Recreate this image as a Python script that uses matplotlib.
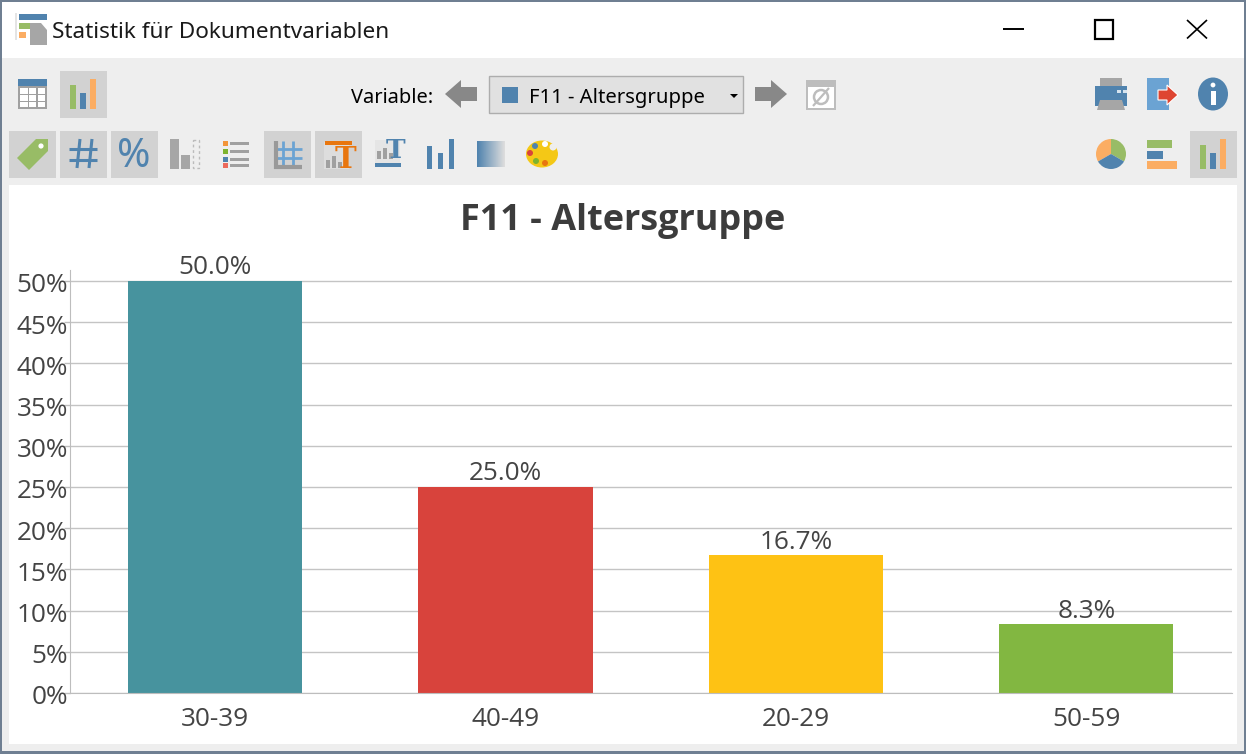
import matplotlib
matplotlib.use("Agg")
import matplotlib.pyplot as plt
from matplotlib.patches import Rectangle, Polygon, Circle, Wedge, Ellipse
from matplotlib.lines import Line2D
from matplotlib.transforms import ScaledTranslation

categories = ["30-39", "40-49", "20-29", "50-59"]
values = [50.0, 25.0, 16.7, 8.33]
value_labels = ["50.0%", "25.0%", "16.7%", "8.3%"]
bar_colors = ["#47939E", "#D8433C", "#FEC214", "#82B741"]
y_ticks = [0, 5, 10, 15, 20, 25, 30, 35, 40, 45, 50]
y_labels = [f"{t}%" for t in y_ticks]
title = "F11 - Altersgruppe"
window_title = "Statistik für Dokumentvariablen"

plt.rcParams["font.family"] = ["Open Sans", "DejaVu Sans"]
UI = ["Noto Sans", "DejaVu Sans"]
W, H = 1246, 754
fig = plt.figure(figsize=(W / 100, H / 100), dpi=100, facecolor="#EEEEEE")

# window chrome layer in pixel coordinates
c = fig.add_axes([0, 0, 1, 1], zorder=0)
c.set_xlim(0, W); c.set_ylim(H, 0); c.axis("off")

BLUE = "#5083AE"; GREEN = "#98BC66"; ORANGE = "#FBAD63"; GREY = "#A6A6A6"; SEL = "#D2D2D2"; LBLUE = "#6BA3D3"


def r(x, y, w, h, col, ec="none", lw=0, z=2):
    c.add_patch(Rectangle((x, y), w, h, fc=col, ec=ec, lw=lw, zorder=z))


def l(xs, ys, col, lw=1.5, z=3):
    c.add_line(Line2D(xs, ys, color=col, lw=lw, zorder=z, solid_capstyle="butt"))


# frame + title bar + white client
r(0, 0, W, H, "#6F7F92", z=0)
r(2, 2, W - 4, H - 5, "#EEEEEE", z=0.5)
r(2, 2, W - 4, 56, "white", z=1)
r(9, 185, 1228, 559, "white", z=1)

# app icon
r(15, 13, 2, 27, "#E4E4E4")
r(19, 14, 28, 6, BLUE)
r(19, 23, 11, 6, GREEN)
r(19, 32, 7, 6, ORANGE)
c.add_patch(Polygon([(30, 23), (41, 23), (47, 30), (47, 45), (30, 45)], fc=GREY, zorder=2))
c.text(52, 33, window_title, fontsize=16.25, color="#1A1A1A", va="center", ha="left", family=UI)

# window buttons
l([1003, 1024], [28.5, 28.5], "black", 1.4)
c.add_patch(Rectangle((1095, 20), 18, 19, fc="none", ec="black", lw=1.6, zorder=3))
l([1187, 1207], [20, 38.5], "black", 1.2)
l([1187, 1207], [38.5, 20], "black", 1.2)

# selected backgrounds
for x, y, w, h in [(60, 71, 47, 47), (9, 131, 47, 47), (60, 131, 47, 47), (111, 131, 47, 47),
                   (264, 131, 47, 47), (315, 131, 47, 47), (1190, 131, 47, 47)]:
    r(x, y, w, h, SEL, z=1.5)

# table icon
r(18, 79, 29, 30, "#A0A0A0"); r(18, 79, 29, 7, BLUE)
for i in range(3):
    for j in range(3):
        r(20 + i * 8.8, 88 + j * 6.8, 7.6, 5.8, "white")


def bars(x0, base, seq, bw=6, gap=3.5):
    for i, (h, col) in enumerate(seq):
        r(x0 + i * (bw + gap), base - h, bw, h, col)


bars(70, 109, [(24, GREEN), (16, BLUE), (30, ORANGE)], 6, 4)

# Variable selector
c.text(351, 98, "Variable:", fontsize=14.4, color="black", va="center", family=UI)
c.add_patch(Polygon([(445, 94), (461, 80), (461, 87), (477, 87), (477, 101), (461, 101), (461, 108)], fc="#888888", zorder=2))
r(489, 76, 254, 37, "#E1E1E1", ec="#ADADAD", lw=1)
r(502, 87, 16, 16, BLUE, z=3)
c.text(529, 98, "F11 - Altersgruppe", fontsize=14.6, color="black", va="center", family=UI, zorder=3)
c.add_patch(Polygon([(730, 94), (738, 94), (734, 98)], fc="black", zorder=3))
c.add_patch(Polygon([(787, 94), (771, 80), (771, 87), (755, 87), (755, 101), (771, 101), (771, 108)], fc="#888888", zorder=2))
r(806, 80, 30, 30, "#BDBDBD"); r(808, 87, 26, 21, "white")
c.add_patch(Circle((821, 97), 7, fc="none", ec="#BDBDBD", lw=1.8, zorder=3))
l([813, 829], [106, 88], "#BDBDBD", 1.6)

# printer, export, info
r(1100, 78, 22, 8, GREY); r(1095, 86, 32, 20, BLUE)
r(1117, 90, 4, 3, "#D5E3EE"); r(1123, 90, 4, 3, "#D5E3EE")
c.add_patch(Polygon([(1100, 100), (1122, 100), (1125, 110), (1097, 110)], fc=GREY, zorder=3))
r(1147, 78, 22, 32, LBLUE)
c.add_patch(Polygon([(1158, 90), (1167, 90), (1167, 85), (1178, 95), (1167, 105), (1167, 100), (1158, 100)], fc="#DE4531", ec="white", lw=0.8, zorder=3))
c.add_patch(Ellipse((1213, 94), 30, 33, fc=BLUE, zorder=2))
r(1211, 91, 4.5, 14, "white", z=3)
c.add_patch(Circle((1213, 85), 2.4, fc="white", zorder=3))

# second row icons
c.add_patch(Polygon([(17, 158), (36, 139), (48, 139), (48, 151), (29, 170)], fc=GREEN, zorder=2))
c.add_patch(Circle((41, 146), 2.6, fc="white", zorder=3))
for yy in [149, 160]:
    l([69, 97], [yy, yy], BLUE, 2.2)
for xa, xb in [(80, 77), (92, 89)]:
    l([xa, xb], [139, 168], BLUE, 2.2)
c.text(134, 157, "%", fontsize=29, color=BLUE, ha="center", va="center", zorder=3, family=UI)
r(170, 139, 9, 30, GREY); r(181, 155, 9, 14, GREY)
c.add_patch(Rectangle((193, 140), 6, 28, fc="none", ec="#BBBBBB", lw=1, ls=(0, (2, 2)), zorder=2))
for yy, col in zip([143, 151, 159, 165], ["#F29539", "#7DB32E", BLUE, "#EC6A5C"]):
    r(223, yy - 2.5, 4.5, 5, col); r(230, yy - 1.5, 19, 3.5, "#A0A0A0")
# grid icon
for xx in [283, 293]:
    l([xx, xx], [141, 165], LBLUE, 2.0)
for yy in [149, 158]:
    l([276, 302], [yy, yy], LBLUE, 2.0)
l([275.5, 275.5], [141, 169], "#999999", 3); l([274, 302], [167, 167], "#999999", 3)
# title-on icon
r(324, 142, 25, 27, "#DDDDDD", z=1.7); r(325, 141, 27, 4, "#E8760F")
bars(326, 168, [(8, "#A0A0A0"), (12, "#A0A0A0"), (6, "#A0A0A0")], 4, 2)
c.text(345, 160, "T", fontsize=21, fontweight="bold", color="#E8760F", family="DejaVu Serif", ha="center", va="center", zorder=3)
# label icon
r(375, 140, 25, 24, "#E5E5E5", z=1.7); r(375, 163, 26, 4, BLUE)
bars(377, 159, [(8, "#A0A0A0"), (11, "#A0A0A0"), (6, "#A0A0A0")], 4, 2)
c.text(396, 151, "T", fontsize=19, fontweight="bold", color=BLUE, family="DejaVu Serif", ha="center", va="center", zorder=3)
bars(427, 169, [(23, BLUE), (16, BLUE), (30, BLUE)], 5, 6)
# gradient
c.imshow([[i / 30 for i in range(30)]], extent=(477, 505, 167, 141), aspect="auto", zorder=2,
         cmap=matplotlib.colors.LinearSegmentedColormap.from_list("g", [BLUE, "#DDDDDD"]))
c.set_xlim(0, W); c.set_ylim(H, 0)
# palette
c.add_patch(Ellipse((542, 154), 32, 27, fc="#F4C816", zorder=2))
c.add_patch(Circle((553, 147), 3.5, fc="#EEEEEE", zorder=3))
for px, py, col in [(535, 146, "#5083AE"), (530, 153, "#D8433C"), (536, 161, "#7DB32E"), (545, 163, "#E8760F"), (545, 144, "white")]:
    c.add_patch(Circle((px, py), 3, fc=col, zorder=3))

# chart-type selector icons (y axis is inverted: angles run clockwise on screen)
c.add_patch(Wedge((1111, 154), 15, -90, 30, fc=GREEN, zorder=2))
c.add_patch(Wedge((1111, 154), 15, 150, 270, fc=ORANGE, zorder=2))
c.add_patch(Wedge((1111, 154), 15, 30, 150, fc=BLUE, zorder=2))
r(1147, 140, 25, 8, GREEN); r(1147, 151, 16, 8, BLUE); r(1147, 161, 30, 8, ORANGE)
bars(1200, 169, [(24, GREEN), (16, BLUE), (30, ORANGE)], 6, 4)

# actual chart
x0, x1, ytop, ybot = 69.7, 1231.5, 270, 693
ax = fig.add_axes([x0 / W, 1 - ybot / H, (x1 - x0) / W, (ybot - ytop) / H], zorder=5)
ax.patch.set_alpha(0)
positions = list(range(len(categories)))
bars_c = ax.bar(positions, values, width=0.6, color=bar_colors, zorder=3)
ax.set_xlim(-0.5, 3.5)
ax.set_ylim(0, 51.33)
ax.set_yticks(y_ticks, y_labels)
ax.set_xticks(positions, categories)
ax.yaxis.grid(True, color="#C4C4C4", lw=1, zorder=1)
ax.xaxis.grid(False)
ax.tick_params(axis="x", length=0, pad=10, labelsize=18.8, labelcolor="#444444")
ax.tick_params(axis="y", length=4, width=1, color="#BDBDBD", pad=-2.6, labelsize=18.8, labelcolor="#444444")
shift = ScaledTranslation(0, -2 / 100, fig.dpi_scale_trans)
for lab in ax.get_yticklabels():
    lab.set_transform(lab.get_transform() + shift)
for s in ["top", "right"]:
    ax.spines[s].set_visible(False)
for s in ["left", "bottom"]:
    ax.spines[s].set_color("#BDBDBD")
ax.spines["bottom"].set_zorder(4)
ax.bar_label(bars_c, labels=value_labels, fontsize=18.8, color="#444444", padding=0.5)
fig.text(623 / W, 1 - 221 / H, title, fontsize=25.9, fontweight="bold", color="#3C3C3C", ha="center", va="center", zorder=6)

fig.savefig("out.png", dpi=100, facecolor=fig.get_facecolor())
